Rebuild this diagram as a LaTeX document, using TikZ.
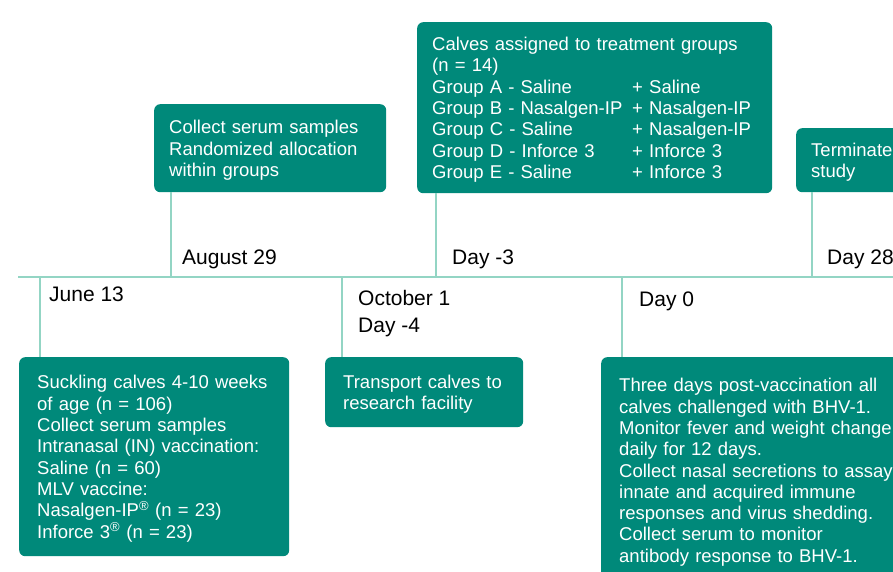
\documentclass[tikz,border=0pt]{standalone}
\usepackage{fontspec}
\setmainfont{Liberation Sans}
\usetikzlibrary{positioning}
\definecolor{boxteal}{HTML}{00897A}
\definecolor{linemint}{HTML}{93D5C4}

\begin{document}
\begin{tikzpicture}[x=1pt,y=-1pt,
  every node/.style={font=\fontsize{18.5}{21.3}\selectfont},
  event/.style={fill=boxteal,text=white,rounded corners=6pt,align=left,
    anchor=north west,inner xsep=18pt,inner ysep=0pt,text height=17.5pt},
  date/.style={anchor=west,inner sep=0pt,align=left,font=\fontsize{21}{27}\selectfont},
  tick/.style={draw=linemint,line width=2pt}]

\clip (0,0) rectangle (893,572);

% The time line
\coordinate (tlstart) at (18,277);
\coordinate (tlend) at (893,277);
\draw[tick] (tlstart) -- (tlend);

% The marks on the time line
\coordinate (mjun) at (40,277);
\coordinate (maug) at (171,277);
\coordinate (moct) at (342,277);
\coordinate (mdm3) at (436,277);
\coordinate (mday0) at (622,277);
\coordinate (mday28) at (812,277);

% The events below the line
\node[event,text width=234pt,minimum height=199pt] (june) at (19,357)
  {Suckling calves 4-10 weeks\\of age (n = 106)\\Collect serum samples\\
   Intranasal (IN) vaccination:\\Saline (n = 60)\\MLV vaccine:\\
   Nasalgen-IP\textsuperscript{®} (n = 23)\\Inforce 3\textsuperscript{®} (n = 23)};
\node[event,text width=162pt,minimum height=70pt] (oct) at (325,357)
  {Transport calves to\\research facility};
\node[event,text width=300pt,minimum height=226pt] (day0) at (601,357)
  {Three days post-vaccination all\\calves challenged with BHV-1.\\
   Monitor fever and weight change\\daily for 12 days.\\
   Collect nasal secretions to assay\\innate and acquired immune\\
   responses and virus shedding.\\Collect serum to monitor\\
   antibody response to BHV-1.};

% The events above the line
\node[event,inner xsep=15pt,text width=202pt,minimum height=88pt] (aug) at (154,104)
  {Collect serum samples\\Randomized allocation\\within groups};
\node[event,inner xsep=15pt,text width=325pt,minimum height=171pt] (dm3) at (417,22)
  {Calves assigned to treatment groups\\(n = 14)\\
   \makebox[200pt][l]{Group A - Saline}+ Saline\\
   \makebox[200pt][l]{Group B - Nasalgen-IP}+ Nasalgen-IP\\
   \makebox[200pt][l]{Group C - Saline}+ Nasalgen-IP\\
   \makebox[200pt][l]{Group D - Inforce 3}+ Inforce 3\\
   \makebox[200pt][l]{Group E - Saline}+ Inforce 3};
\node[event,inner xsep=15pt,text width=120pt,minimum height=64pt] (day28) at (796,128)
  {Terminate\\study};

% The dates
\node[date] (djun) at (49,294) {June 13};
\node[date] (daug) at (182,259) {August 29};
\node[date] (doct) at (358,314) {October 1\\Day -4};
\node[date] (ddm3) at (452,259) {Day -3};
\node[date] (dday0) at (639,301) {Day 0};
\node[date] (dday28) at (827,259) {Day 28};

% The ticks
\draw[tick] (mjun) -- (mjun |- june.north);
\draw[tick] (moct) -- (moct |- oct.north);
\draw[tick] (mday0) -- (mday0 |- day0.north);
\draw[tick] (maug) -- (maug |- aug.south);
\draw[tick] (mdm3) -- (mdm3 |- dm3.south);
\draw[tick] (mday28) -- (mday28 |- day28.south);

\end{tikzpicture}
\end{document}
